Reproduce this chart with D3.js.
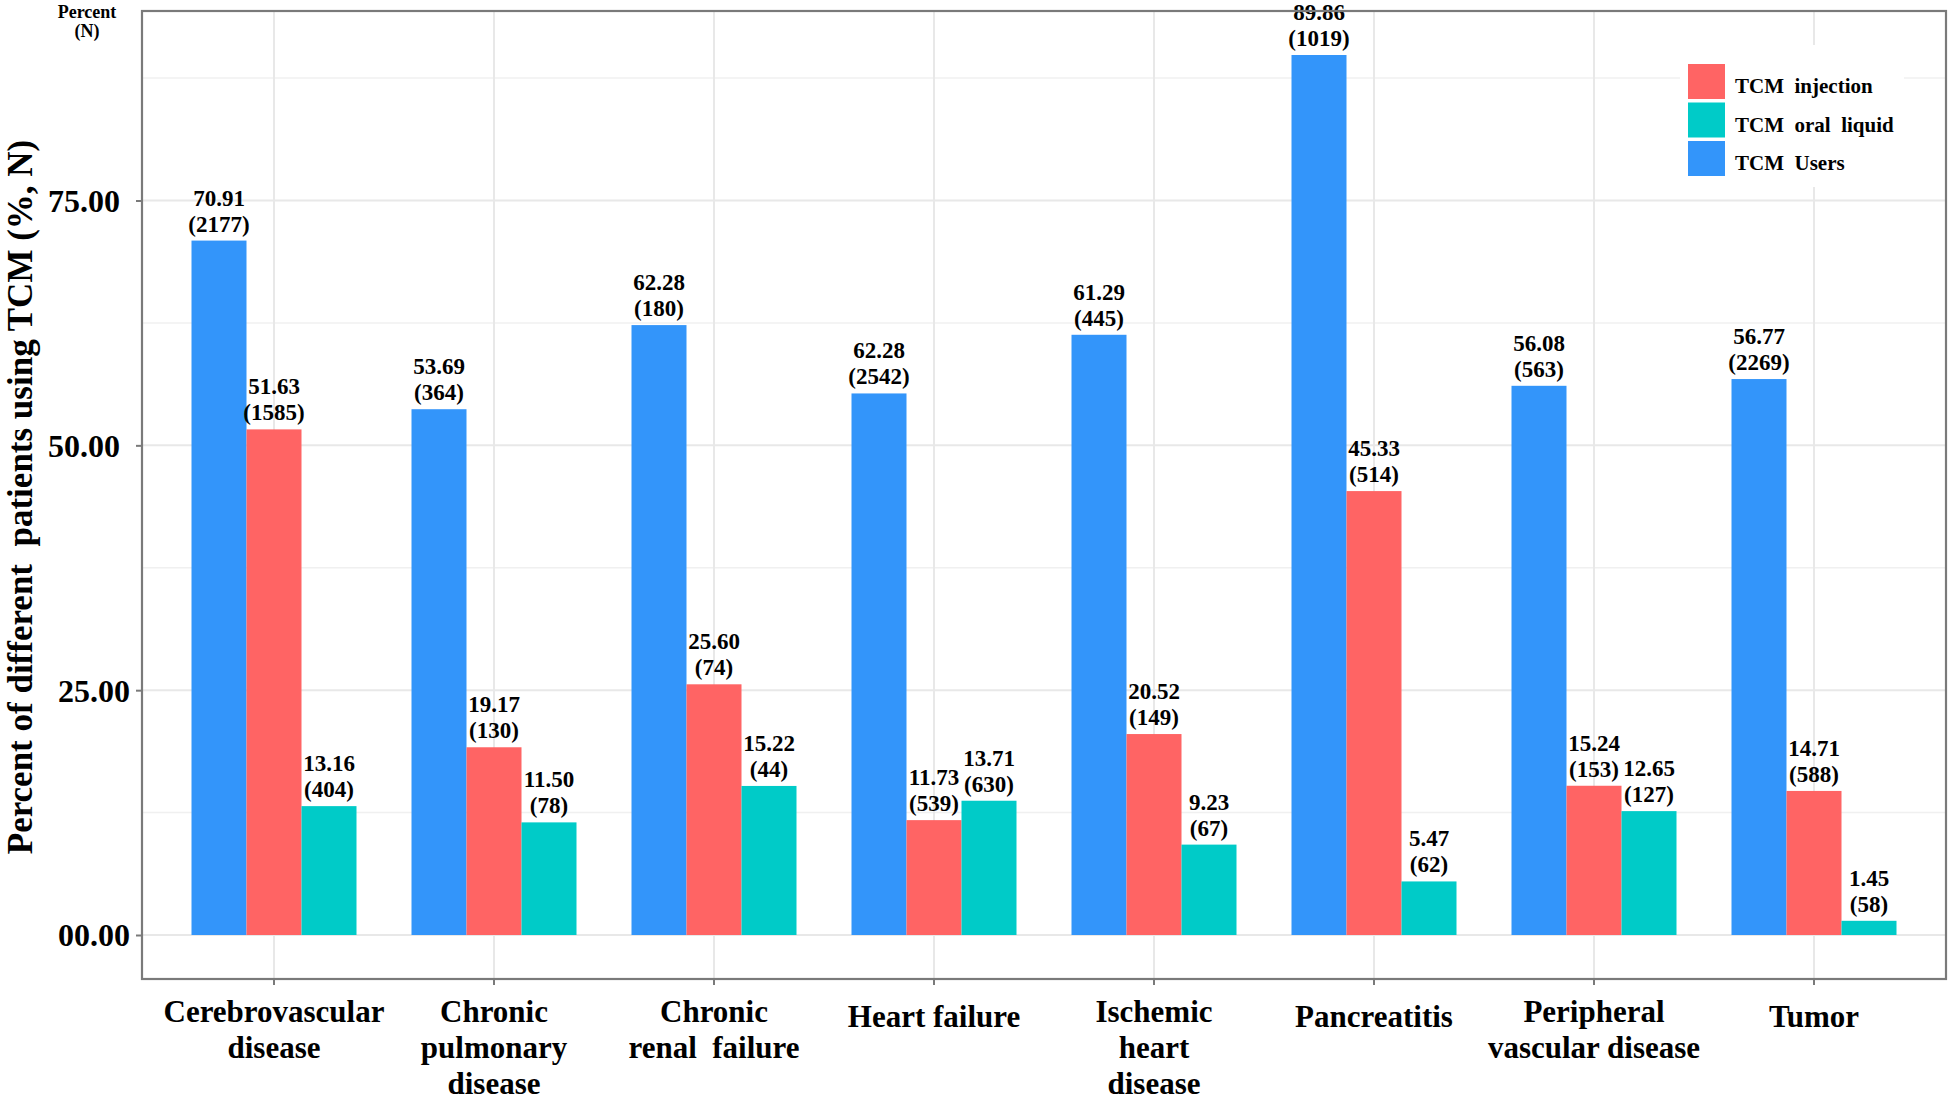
<!DOCTYPE html>
<html>
<head>
<meta charset="utf-8">
<script src="https://cdn.jsdelivr.net/npm/d3@7"></script>
<style>
  html, body { margin: 0; padding: 0; background: #ffffff; }
  svg { display: block; }
  text { font-family: "Liberation Serif", "Times New Roman", serif; font-weight: bold; fill: #000; }
</style>
</head>
<body>
<svg id="chart" width="1948" height="1105"></svg>
<script>
// ---------------- data ----------------
const categories = ["Cerebrovascular disease", "Chronic pulmonary disease", "Chronic renal failure",
  "Heart failure", "Ischemic heart disease", "Pancreatitis", "Peripheral vascular disease", "Tumor"];
const categoryLabelLines = [
  ["Cerebrovascular", "disease"],
  ["Chronic", "pulmonary", "disease"],
  ["Chronic", "renal  failure"],
  ["Heart failure"],
  ["Ischemic", "heart", "disease"],
  ["Pancreatitis"],
  ["Peripheral", "vascular disease"],
  ["Tumor"]
];
const seriesNames = ["TCM Users", "TCM injection", "TCM oral liquid"];
const legendKeys = ["TCM injection", "TCM oral liquid", "TCM Users"];
const legendText = ["TCM  injection", "TCM  oral  liquid", "TCM  Users"];

// bar heights (percent)
const usersPct     = [70.91, 53.69, 62.28, 55.30, 61.29, 89.86, 56.08, 56.77];
const injectionPct = [51.63, 19.17, 25.60, 11.73, 20.52, 45.33, 15.24, 14.71];
const oralPct      = [13.16, 11.50, 15.22, 13.71, 9.23, 5.47, 12.65, 1.45];
// printed labels
const usersLabel     = ["70.91", "53.69", "62.28", "62.28", "61.29", "89.86", "56.08", "56.77"];
const injectionLabel = ["51.63", "19.17", "25.60", "11.73", "20.52", "45.33", "15.24", "14.71"];
const oralLabel      = ["13.16", "11.50", "15.22", "13.71", "9.23", "5.47", "12.65", "1.45"];
const usersN     = [2177, 364, 180, 2542, 445, 1019, 563, 2269];
const injectionN = [1585, 130, 74, 539, 149, 514, 153, 588];
const oralN      = [404, 78, 44, 630, 67, 62, 127, 58];
const yTicks = [0, 25, 50, 75];
const yMinorTicks = [12.5, 37.5, 62.5, 87.5];
const yTitle = "Percent of different  patients using TCM (%, N)";

const colors = { "TCM Users": "#3395FA", "TCM injection": "#FF6464", "TCM oral liquid": "#00CBC8" };

// ---------------- layout ----------------
const svg = d3.select("#chart");
const panel = { left: 142, right: 1946, top: 11, bottom: 979 };

const maxVal = d3.max(usersPct.concat(injectionPct, oralPct));
const pad = maxVal * 0.05;
const y = d3.scaleLinear().domain([-pad, maxVal + pad]).range([panel.bottom, panel.top]);

const x = d3.scaleBand().domain(categories).range([panel.left, panel.right])
  .paddingInner(0.25).paddingOuter(0.225);
const xs = d3.scaleBand().domain(seriesNames).range([0, x.bandwidth()]);
const center = c => x(c) + x.bandwidth() / 2;

// grid
const grid = svg.append("g");
grid.selectAll("line.minor").data(yMinorTicks).join("line")
  .attr("x1", panel.left).attr("x2", panel.right)
  .attr("y1", d => y(d)).attr("y2", d => y(d))
  .attr("stroke", "#f0f0f0").attr("stroke-width", 1.5);
grid.selectAll("line.major").data(yTicks).join("line")
  .attr("x1", panel.left).attr("x2", panel.right)
  .attr("y1", d => y(d)).attr("y2", d => y(d))
  .attr("stroke", "#e8e8e8").attr("stroke-width", 2);
grid.selectAll("line.vert").data(categories).join("line")
  .attr("x1", d => center(d)).attr("x2", d => center(d))
  .attr("y1", panel.top).attr("y2", panel.bottom)
  .attr("stroke", "#e8e8e8").attr("stroke-width", 2);

// data table
const table = categories.map((c, i) => ({
  cat: c,
  bars: [
    { s: "TCM Users", v: usersPct[i], lab: usersLabel[i], n: usersN[i] },
    { s: "TCM injection", v: injectionPct[i], lab: injectionLabel[i], n: injectionN[i] },
    { s: "TCM oral liquid", v: oralPct[i], lab: oralLabel[i], n: oralN[i] }
  ]
}));

const groups = svg.append("g").selectAll("g").data(table).join("g")
  .attr("transform", d => `translate(${x(d.cat)},0)`);
groups.selectAll("rect").data(d => d.bars).join("rect")
  .attr("x", d => xs(d.s)).attr("width", xs.bandwidth())
  .attr("y", d => y(d.v)).attr("height", d => y(0) - y(d.v))
  .attr("fill", d => colors[d.s]);

const labs = groups.selectAll("text.val").data(d => d.bars).join("text")
  .attr("class", "val")
  .attr("text-anchor", "middle")
  .style("font-size", "23px");
labs.append("tspan")
  .attr("x", d => xs(d.s) + xs.bandwidth() / 2)
  .attr("y", d => y(d.v) - 35)
  .text(d => d.lab);
labs.append("tspan")
  .attr("x", d => xs(d.s) + xs.bandwidth() / 2)
  .attr("y", d => y(d.v) - 9)
  .text(d => `(${d.n})`);

// legend
const lg = svg.append("g").attr("transform", "translate(1688,64)");
lg.append("rect").attr("x", -8).attr("y", -19).attr("width", 224).attr("height", 142).attr("fill", "#fff");
legendKeys.forEach((k, i) => {
  lg.append("rect").attr("x", 0).attr("y", i * 38.5).attr("width", 37).attr("height", 35).attr("fill", colors[k]);
  lg.append("text").attr("x", 47).attr("y", i * 38.5 + 29).style("font-size", "21px")
    .attr("xml:space", "preserve").style("white-space", "pre").text(legendText[i]);
});

// panel border
svg.append("rect").attr("x", panel.left).attr("y", panel.top)
  .attr("width", panel.right - panel.left).attr("height", panel.bottom - panel.top)
  .attr("fill", "none").attr("stroke", "#7a7a7a").attr("stroke-width", 2.2);

// y axis
const yAxis = d3.axisLeft(y).tickValues(yTicks).tickFormat(d3.format("05.2f")).tickSize(6).tickPadding(6);
const ya = svg.append("g").attr("transform", `translate(${panel.left},0)`).call(yAxis);
ya.select(".domain").remove();
ya.selectAll(".tick line").attr("stroke", "#7a7a7a").attr("stroke-width", 2);
ya.selectAll(".tick text").style("font-size", "32px")
  .style("font-family", '"Liberation Serif", serif').style("font-weight", "bold").attr("fill", "#000")
  .attr("dy", "0.34em")
  .attr("dx", d => (d >= 50 ? -10 : 0));

// x axis
const xAxis = d3.axisBottom(x).tickSize(6).tickFormat("");
const xa = svg.append("g").attr("transform", `translate(0,${panel.bottom})`).call(xAxis);
xa.select(".domain").remove();
xa.selectAll(".tick line").attr("stroke", "#7a7a7a").attr("stroke-width", 2);

const xl = svg.append("g").selectAll("text").data(categories).join("text")
  .attr("text-anchor", "middle")
  .style("font-size", "31px")
  .attr("xml:space", "preserve").style("white-space", "pre");
xl.each(function (c, i) {
  const lines = categoryLabelLines[i];
  const base = lines.length > 1 ? 1022 : 1027;
  d3.select(this).selectAll("tspan").data(lines).join("tspan")
    .attr("x", center(c)).attr("y", (l, j) => base + j * 36).text(l => l);
});

// y title
svg.append("text").attr("transform", "translate(32,497) rotate(-90)")
  .attr("text-anchor", "middle").style("font-size", "35px")
  .attr("xml:space", "preserve").style("white-space", "pre").text(yTitle);

// corner note
const note = svg.append("text").attr("text-anchor", "middle").style("font-size", "18px");
note.append("tspan").attr("x", 87).attr("y", 18).text("Percent");
note.append("tspan").attr("x", 87).attr("y", 37).text("(N)");
</script>
</body>
</html>
